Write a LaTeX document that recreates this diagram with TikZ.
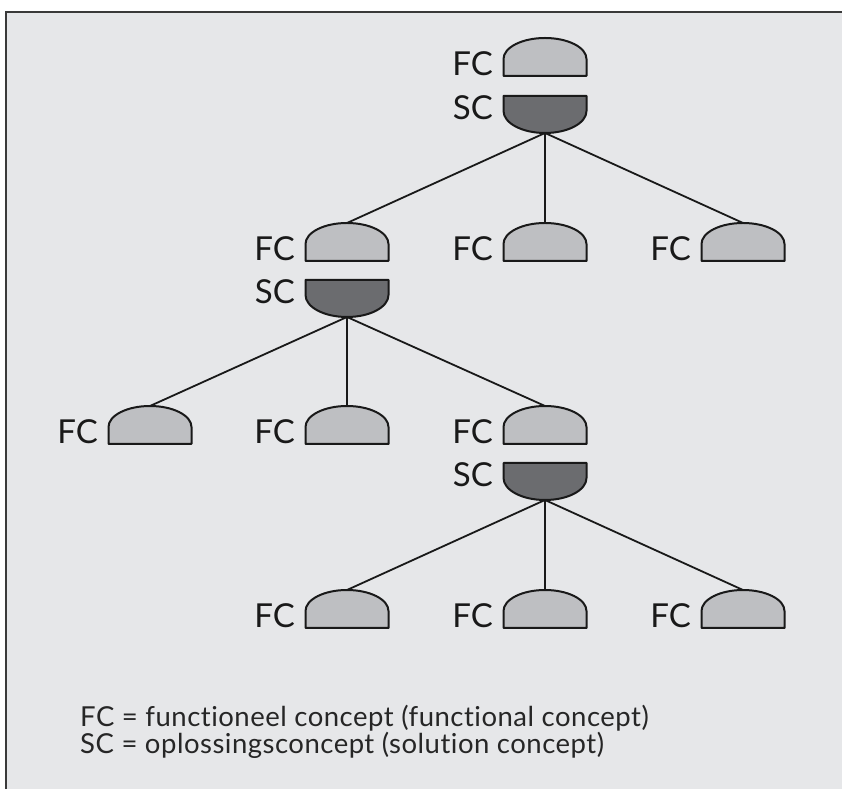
\documentclass[tikz,border=0pt]{standalone}
\usepackage{fontspec}
\setmainfont{Lato}[Ligatures={NoCommon}]
\newfontfamily\legendfont{Lato}[Ligatures={NoCommon}, LetterSpace=1.8]
\definecolor{bg}{HTML}{E6E7E9}
\definecolor{fcfill}{HTML}{BEBFC2}
\definecolor{scfill}{HTML}{6B6C6F}
\definecolor{frame}{HTML}{3A3A3A}
\tikzset{
  lbl/.style={inner sep=0pt, font=\fontsize{33}{36}\selectfont, text=black!90},
  shapeline/.style={draw=black!90, line width=2pt, line join=round},
  conn/.style={draw=black!90, line width=1.8pt},
  legend/.style={inner sep=0pt, anchor=base west, font=\legendfont\fontsize{27.5}{30}\selectfont, text=black!85},
  fcshape/.pic={
    \path[shapeline, fill=fcfill] (-41.5pt,0pt) -- (41.5pt,0pt) -- (41.5pt,17pt)
      arc[start angle=0, end angle=180, x radius=41.5pt, y radius=21pt] -- cycle;
    \coordinate (-top) at (0pt,38pt);
    \node[lbl, anchor=base east] (-lbl) at (-52pt,0pt) {FC};
  },
  scshape/.pic={
    \path[shapeline, fill=scfill] (-41.5pt,0pt) -- (41.5pt,0pt) -- (41.5pt,-15pt)
      arc[start angle=0, end angle=-180, x radius=41.5pt, y radius=22pt] -- cycle;
    \coordinate (-bot) at (0pt,-37pt);
    \node[lbl, anchor=base east] (-lbl) at (-52pt,-24pt) {SC};
  }
}
\begin{document}
\begin{tikzpicture}[x=1pt,y=1pt]
\useasboundingbox (0,0) rectangle (842,789);
\fill[bg] (6,0) rectangle (842,777);
\draw[frame, line width=1.5pt] (6,0) -- (6,777) -- (842,777);
% shapes
\pic (r) at (545,713) {fcshape};
\pic (rs) at (545,693) {scshape};
\pic (a) at (347,528) {fcshape};
\pic (as) at (347,509) {scshape};
\pic (b) at (545,528) {fcshape};
\pic (c) at (743,528) {fcshape};
\pic (d) at (150,345) {fcshape};
\pic (e) at (347,345) {fcshape};
\pic (f) at (545,345) {fcshape};
\pic (fs) at (545,326) {scshape};
\pic (g) at (347,161) {fcshape};
\pic (h) at (545,161) {fcshape};
\pic (i) at (743,161) {fcshape};
% connectors
\foreach \p/\c in {rs/a, rs/b, rs/c, as/d, as/e, as/f, fs/g, fs/h, fs/i}
  \draw[conn] (\p-bot) -- (\c-top);
% legend
\node[legend] (l1) at (80,63) {FC = functioneel concept (functional concept)};
\node[legend] (l2) at (80,36) {SC = oplossingsconcept (solution concept)};
\end{tikzpicture}
\end{document}
